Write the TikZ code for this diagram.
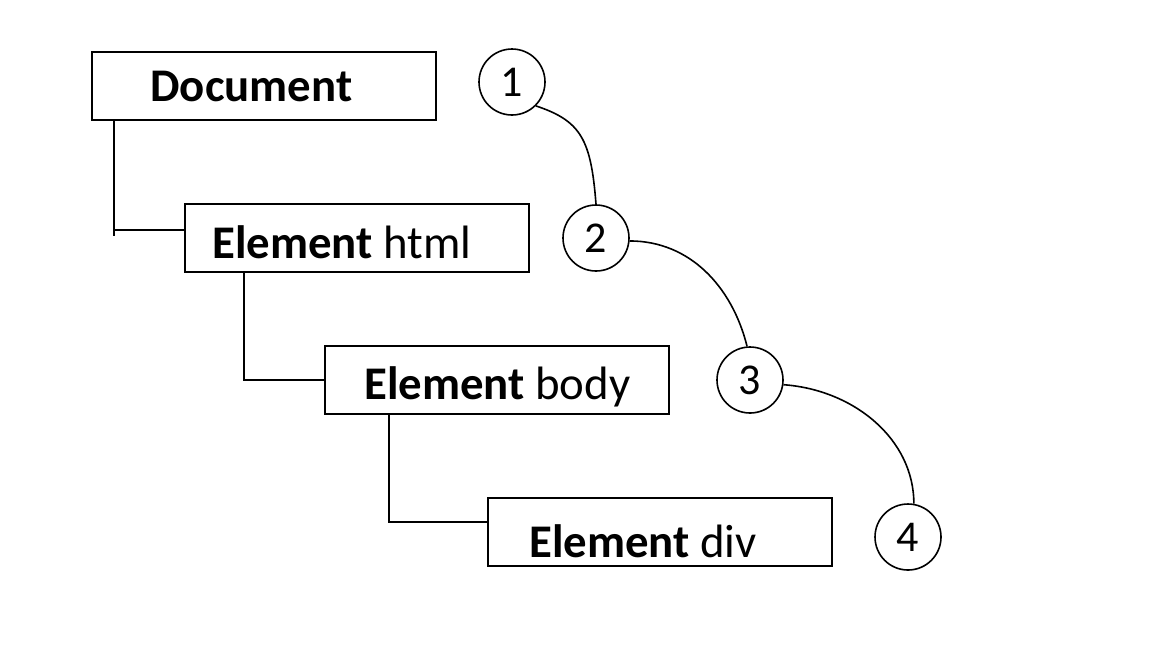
\documentclass[tikz,border=0pt]{standalone}
\usepackage{fontspec}
\setmainfont{Carlito}
\usetikzlibrary{positioning}
\usetikzlibrary{calc}

\begin{document}
\begin{tikzpicture}[x=0.5pt, y=-0.5pt,
    box/.style={draw, line width=1pt, minimum width=172pt, minimum height=34pt, inner sep=0pt},
    label/.style={anchor=base west, inner sep=0pt, font=\fontsize{23.4}{27}\selectfont},
    num/.style={draw, circle, line width=0.8pt, minimum size=33pt, inner sep=0pt, font=\fontsize{22}{26}\selectfont},
    link/.style={line width=1pt},
    walk/.style={line width=0.8pt}]
  \useasboundingbox (0,0) rectangle (1166,644);
  % boxes of the tree
  \node [box] (doc) at (264,85.5) {};
  \node [box] (html) at (357,237.5) {};
  \node [box] (body) at (497,379.5) {};
  \node [box] (div) at (659.5,532) {};
  \node [label] (doct) at (150,101) {\textbf{Document}};
  \node [label] (htmlt) at (212,258) {\textbf{Element} html};
  \node [label] (bodyt) at (364,399) {\textbf{Element} body};
  \node [label] (divt) at (529,557) {\textbf{Element} div};
  % tree links
  \draw [link] (doc.south west -| 114,0) |- (html.west |- 0,230);
  \draw [link] (114,230) -- (114,236);
  \draw [link] (html.south west -| 244,0) |- (body.west |- 0,380);
  \draw [link] (body.south west -| 389,0) |- (div.west |- 0,522);
  % order of the walk
  \node [num] (n1) at (512,82) {1};
  \node [num] (n2) at (596,238) {2};
  \node [num] (n3) at (750,380) {3};
  \node [num] (n4) at (908,537) {4};
  \draw [walk] (n1.-45) .. controls +(45,15) and +(-5,-65) .. (n2.north);
  \draw [walk] (n2.-5) .. controls +(60,0) and +(-15,-60) .. (n3.95);
  \draw [walk] (n3.-8) .. controls +(70,5) and +(0,-65) .. (n4.80);
\end{tikzpicture}
\end{document}
